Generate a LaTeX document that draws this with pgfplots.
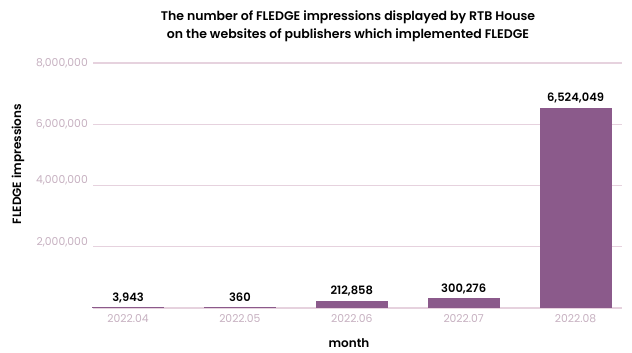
\documentclass[border=0pt]{standalone}
\usepackage{pgfplots}
\pgfplotsset{compat=1.18}
\usepackage{pgfplotstable}
\usepackage{fontspec}
\setmainfont{Poppins}[BoldFont={Poppins SemiBold}]
\definecolor{barc}{HTML}{8B5A8B}
\definecolor{gridc}{HTML}{E6D2DE}
\definecolor{tickc}{HTML}{C6B0C0}
\pgfplotstableread{
x y label
0 3943 3,943
1 360 360
2 212858 212,858
3 300276 300,276
4 6524049 6,524,049
}\datatable
\begin{document}
\begin{tikzpicture}[x=1pt,y=1pt]
\useasboundingbox (0,0) rectangle (632,353);
\begin{axis}[
  at={(93pt,45pt)}, anchor=south west,
  scale only axis, width=529pt, height=245pt,
  xmin=-0.313, xmax=4.415, ymin=0, ymax=8000000,
  axis line style={draw=none},
  major tick length=0pt,
  scaled y ticks=false,
  xtick={0,1,2,3,4},
  xticklabels={2022.04,2022.05,2022.06,2022.07,2022.08},
  ytick={0,2000000,4000000,6000000,8000000},
  yticklabels={{},{\raisebox{11pt}{2,000,000}},{\raisebox{11pt}{4,000,000}},{6,000,000},{8,000,000}},
  ymajorgrids, grid style={gridc, line width=1.2pt},
  tick label style={font=\fontsize{10.8}{12}\selectfont, text=tickc, inner sep=0pt},
  yticklabel style={xshift=-5pt},
  xticklabel style={yshift=-6pt},
  ybar, bar width=71pt,
  clip=false,
  nodes near coords,
  point meta=explicit symbolic,
  every node near coord/.append style={font=\fontsize{11.5}{13}\selectfont\bfseries, text=black, anchor=base, inner sep=0pt, yshift=6.5pt},
]
\addplot[fill=barc, draw=barc, line width=1pt] table[x=x, y=y, meta=label] {\datatable};
\end{axis}
\node[font=\fontsize{12.5}{17.5}\selectfont\bfseries, align=center] at (348,326.5) {The number of FLEDGE impressions displayed by RTB House\\on the websites of publishers which implemented FLEDGE};
\node[font=\fontsize{12}{14}\selectfont\bfseries, rotate=90] at (18,189) {FLEDGE impressions};
\node[font=\fontsize{12}{14}\selectfont\bfseries] at (349,10) {month};
\end{tikzpicture}
\end{document}
